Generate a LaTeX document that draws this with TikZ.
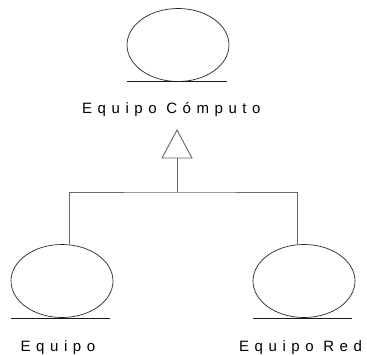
\documentclass[tikz,border=0pt]{standalone}
\usepackage{fontspec}
\setmainfont{Liberation Sans}[LetterSpace=37]
\usetikzlibrary{shapes.geometric}
\begin{document}
\begin{tikzpicture}[x=1pt,y=-1pt,
  classbox/.style={draw=black!85,fill=white,ellipse,line width=0.7pt,
    minimum width=102pt,minimum height=73pt,inner sep=0pt},
  baseline rule/.style={draw=black!90,line width=0.8pt},
  conn/.style={draw=black!60,line width=0.9pt},
  lbl/.style={anchor=base west,inner sep=0pt,font=\fontsize{15}{17}\selectfont}]
\useasboundingbox (0,0) rectangle (367,356);
\node[classbox] (top) at (178,45) {};
\node[classbox] (left) at (62,281) {};
\node[classbox] (right) at (304,281) {};
\draw[baseline rule] (127,81) -- (227,81);
\draw[baseline rule] (11,318) -- (110,318);
\draw[baseline rule] (253,318) -- (352,318);
\node[lbl] (toplbl) at (82,113) {Equipo Cómputo};
\node[lbl] (leftlbl) at (20.5,351) {Equipo};
\node[lbl] (rightlbl) at (239,351) {Equipo Red};
\coordinate (apex) at (177,130);
\coordinate (bl) at (162,158);
\coordinate (br) at (192,158);
\coordinate (basemid) at (177,158);
\coordinate (junc) at (177,192);
\draw[conn,fill=white] (apex) -- (br) -- (bl) -- cycle;
\draw[conn] (basemid) -- (junc);
\draw[conn] ([xshift=7pt]left.north) |- (junc) -| ([xshift=-7pt]right.north);
\end{tikzpicture}
\end{document}
